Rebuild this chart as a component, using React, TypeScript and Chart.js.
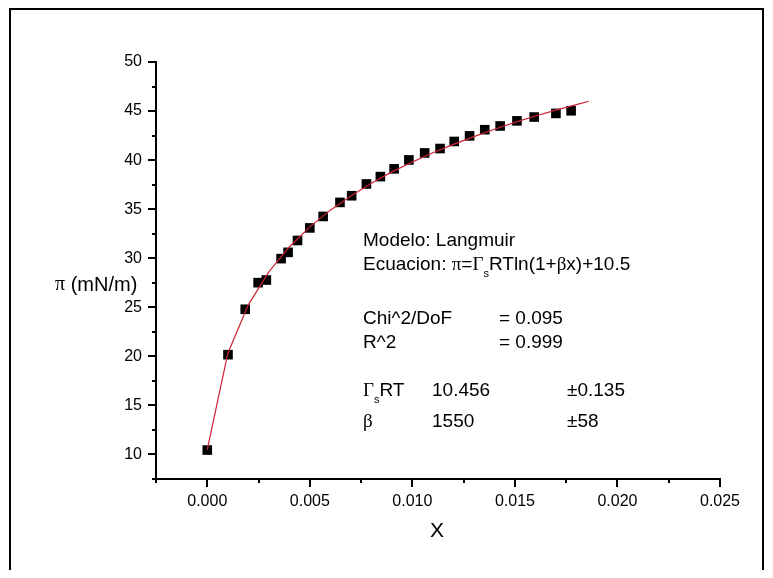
import React, { useEffect, useRef } from "react";
import { Chart, registerables } from "chart.js";

Chart.register(...registerables);

// Measured data (X, π in mN/m)
const xData = [0, 0.00101, 0.00185, 0.00248, 0.00288, 0.0036, 0.00394, 0.0044, 0.005, 0.00565, 0.00647, 0.00704, 0.00776, 0.00844, 0.00911, 0.00983, 0.0106, 0.01135, 0.01204, 0.01279, 0.01353, 0.01428, 0.0151, 0.01594, 0.017, 0.01774];
const piData = [10.45, 20.17, 24.8, 27.51, 27.78, 29.96, 30.6, 31.81, 33.09, 34.26, 35.69, 36.37, 37.57, 38.32, 39.11, 40.02, 40.73, 41.18, 41.9, 42.47, 43.1, 43.48, 44.0, 44.39, 44.76, 45.03];

// Fitted Langmuir curve
const fitX = [0, 0.001, 0.002, 0.003, 0.004, 0.005, 0.006, 0.007, 0.008, 0.009, 0.01, 0.011, 0.012, 0.013, 0.014, 0.015, 0.016, 0.017, 0.018, 0.0186];
const fitY = [10.5, 20.3, 25.25, 28.6, 31.15, 33.2, 34.9, 36.35, 37.65, 38.8, 39.8, 40.75, 41.6, 42.4, 43.15, 43.85, 44.5, 45.1, 45.65, 46.0];

// Axis ticks
const xMajorTicks = [0, 0.005, 0.01, 0.015, 0.02, 0.025];
const xMinorTicks = [-0.0025, 0.0025, 0.0075, 0.0125, 0.0175, 0.0225];
const yMajorTicks = [10, 15, 20, 25, 30, 35, 40, 45, 50];
const yMinorTicks = [7.5, 12.5, 17.5, 22.5, 27.5, 32.5, 37.5, 42.5, 47.5];

const xTitle = "X";
const yTitle = "π (mN/m)";

const SANS = "'Liberation Sans', Arial, sans-serif";
const SERIF = "'Liberation Serif', 'Times New Roman', serif";

type Seg = { t: string; serif?: boolean; sub?: boolean };

function drawSegs(ctx: CanvasRenderingContext2D, segs: Seg[], x: number, y: number, size: number) {
  let cx = x;
  for (const s of segs) {
    const fs = s.sub ? Math.round(size * 0.6) : size;
    ctx.font = `${fs}px ${s.serif ? SERIF : SANS}`;
    const yy = s.sub ? y + size * 0.45 : y;
    ctx.fillText(s.t, cx, yy);
    cx += ctx.measureText(s.t).width;
  }
}

const decorPlugin = {
  id: "decor",
  afterDraw(chart: any) {
    const ctx: CanvasRenderingContext2D = chart.ctx;
    const xs = chart.scales.x;
    const ys = chart.scales.y;
    const ca = chart.chartArea;
    ctx.save();
    // outer frame
    ctx.strokeStyle = "#000";
    ctx.lineWidth = 2;
    ctx.beginPath();
    ctx.moveTo(2, chart.height);
    ctx.lineTo(2, 1);
    ctx.lineTo(chart.width - 2, 1);
    ctx.lineTo(chart.width - 2, chart.height);
    ctx.stroke();

    // ticks
    ctx.lineWidth = 2;
    ctx.beginPath();
    for (const v of xMajorTicks) {
      const p = Math.round(xs.getPixelForValue(v));
      ctx.moveTo(p, ca.bottom);
      ctx.lineTo(p, ca.bottom + 8);
    }
    for (const v of xMinorTicks) {
      const p = Math.round(xs.getPixelForValue(v));
      ctx.moveTo(p, ca.bottom);
      ctx.lineTo(p, ca.bottom + 4);
    }
    for (const v of yMajorTicks) {
      const p = Math.round(ys.getPixelForValue(v));
      ctx.moveTo(ca.left, p);
      ctx.lineTo(ca.left - 8, p);
    }
    for (const v of yMinorTicks) {
      const p = Math.round(ys.getPixelForValue(v));
      ctx.moveTo(ca.left, p);
      ctx.lineTo(ca.left - 4, p);
    }
    ctx.stroke();

    // axis titles
    ctx.fillStyle = "#000";
    ctx.textBaseline = "middle";
    ctx.textAlign = "center";
    ctx.font = `21px ${SANS}`;
    ctx.fillText(xTitle, (ca.left + ca.right) / 2 - 1, 523);
    ctx.textAlign = "left";
    drawSegs(ctx, [{ t: "π", serif: true }, { t: yTitle.slice(1) }], 47, 277, 20);

    // fit report
    const L = 355;
    const c2 = 491;
    const cb = 424;
    const cc = 559;
    const fs = 19;
    drawSegs(ctx, [{ t: "Modelo: Langmuir" }], L, 233, fs);
    drawSegs(ctx, [
      { t: "Ecuacion: " }, { t: "π", serif: true }, { t: "=" }, { t: "Γ", serif: true },
      { t: "s", sub: true }, { t: "RTln(1+" }, { t: "β", serif: true }, { t: "x)+10.5" },
    ], L, 257, fs);
    drawSegs(ctx, [{ t: "Chi^2/DoF" }], L, 311, fs);
    drawSegs(ctx, [{ t: "= 0.095" }], c2, 311, fs);
    drawSegs(ctx, [{ t: "R^2" }], L, 335, fs);
    drawSegs(ctx, [{ t: "= 0.999" }], c2, 335, fs);
    drawSegs(ctx, [{ t: "Γ", serif: true }, { t: "s", sub: true }, { t: "RT" }], L, 383, fs);
    drawSegs(ctx, [{ t: "10.456" }], cb, 383, fs);
    drawSegs(ctx, [{ t: "±0.135" }], cc, 383, fs);
    drawSegs(ctx, [{ t: "β", serif: true }], L, 414, fs);
    drawSegs(ctx, [{ t: "1550" }], cb, 414, fs);
    drawSegs(ctx, [{ t: "±58" }], cc, 414, fs);
    ctx.restore();
  },
};

export default function App() {
  const ref = useRef<HTMLCanvasElement | null>(null);
  useEffect(() => {
    if (!ref.current) return;
    const chart = new Chart(ref.current, {
      type: "scatter",
      data: {
        datasets: [
          {
            label: "Fit",
            data: fitX.map((x, i) => ({ x, y: fitY[i] })),
            showLine: true,
            borderColor: "#cc2233",
            borderWidth: 1.2,
            pointRadius: 0,
            tension: 0,
          },
          {
            label: "Datos",
            data: xData.map((x, i) => ({ x, y: piData[i] })),
            pointStyle: "rect",
            pointRadius: 6.8,
            pointBackgroundColor: "#000",
            pointBorderColor: "#000",
            pointBorderWidth: 0,
            showLine: false,
          },
        ],
      },
      options: {
        responsive: false,
        animation: false,
        devicePixelRatio: 1,
        layout: { padding: { top: 54, right: 45, left: 0, bottom: 0 } },
        plugins: { legend: { display: false }, tooltip: { enabled: false } },
        scales: {
          x: {
            type: "linear",
            min: -0.0025,
            max: 0.025,
            afterBuildTicks: (s: any) => {
              s.ticks = xMajorTicks.map((v) => ({ value: v }));
            },
            afterFit: (s: any) => {
              s.height = 91;
            },
            grid: { display: false, drawOnChartArea: false },
            border: { display: true, color: "#000", width: 2 },
            ticks: {
              color: "#000",
              padding: 5,
              font: { family: SANS, size: 16 },
              maxRotation: 0,
              autoSkip: false,
              callback: (v: any) => Number(v).toFixed(3),
            },
          },
          y: {
            type: "linear",
            min: 7.5,
            max: 50,
            afterBuildTicks: (s: any) => {
              s.ticks = yMajorTicks.map((v) => ({ value: v }));
            },
            afterFit: (s: any) => {
              s.width = 148;
            },
            grid: { display: false, drawOnChartArea: false },
            border: { display: true, color: "#000", width: 2 },
            ticks: {
              color: "#000",
              padding: 6,
              font: { family: SANS, size: 16 },
              autoSkip: false,
              callback: (v: any) => String(v),
            },
          },
        },
      },
      plugins: [decorPlugin],
    });
    return () => chart.destroy();
  }, []);
  return (
    <div style={{ width: 757, height: 562 }}>
      <canvas ref={ref} width={757} height={562} style={{ display: "block" }} />
    </div>
  );
}
